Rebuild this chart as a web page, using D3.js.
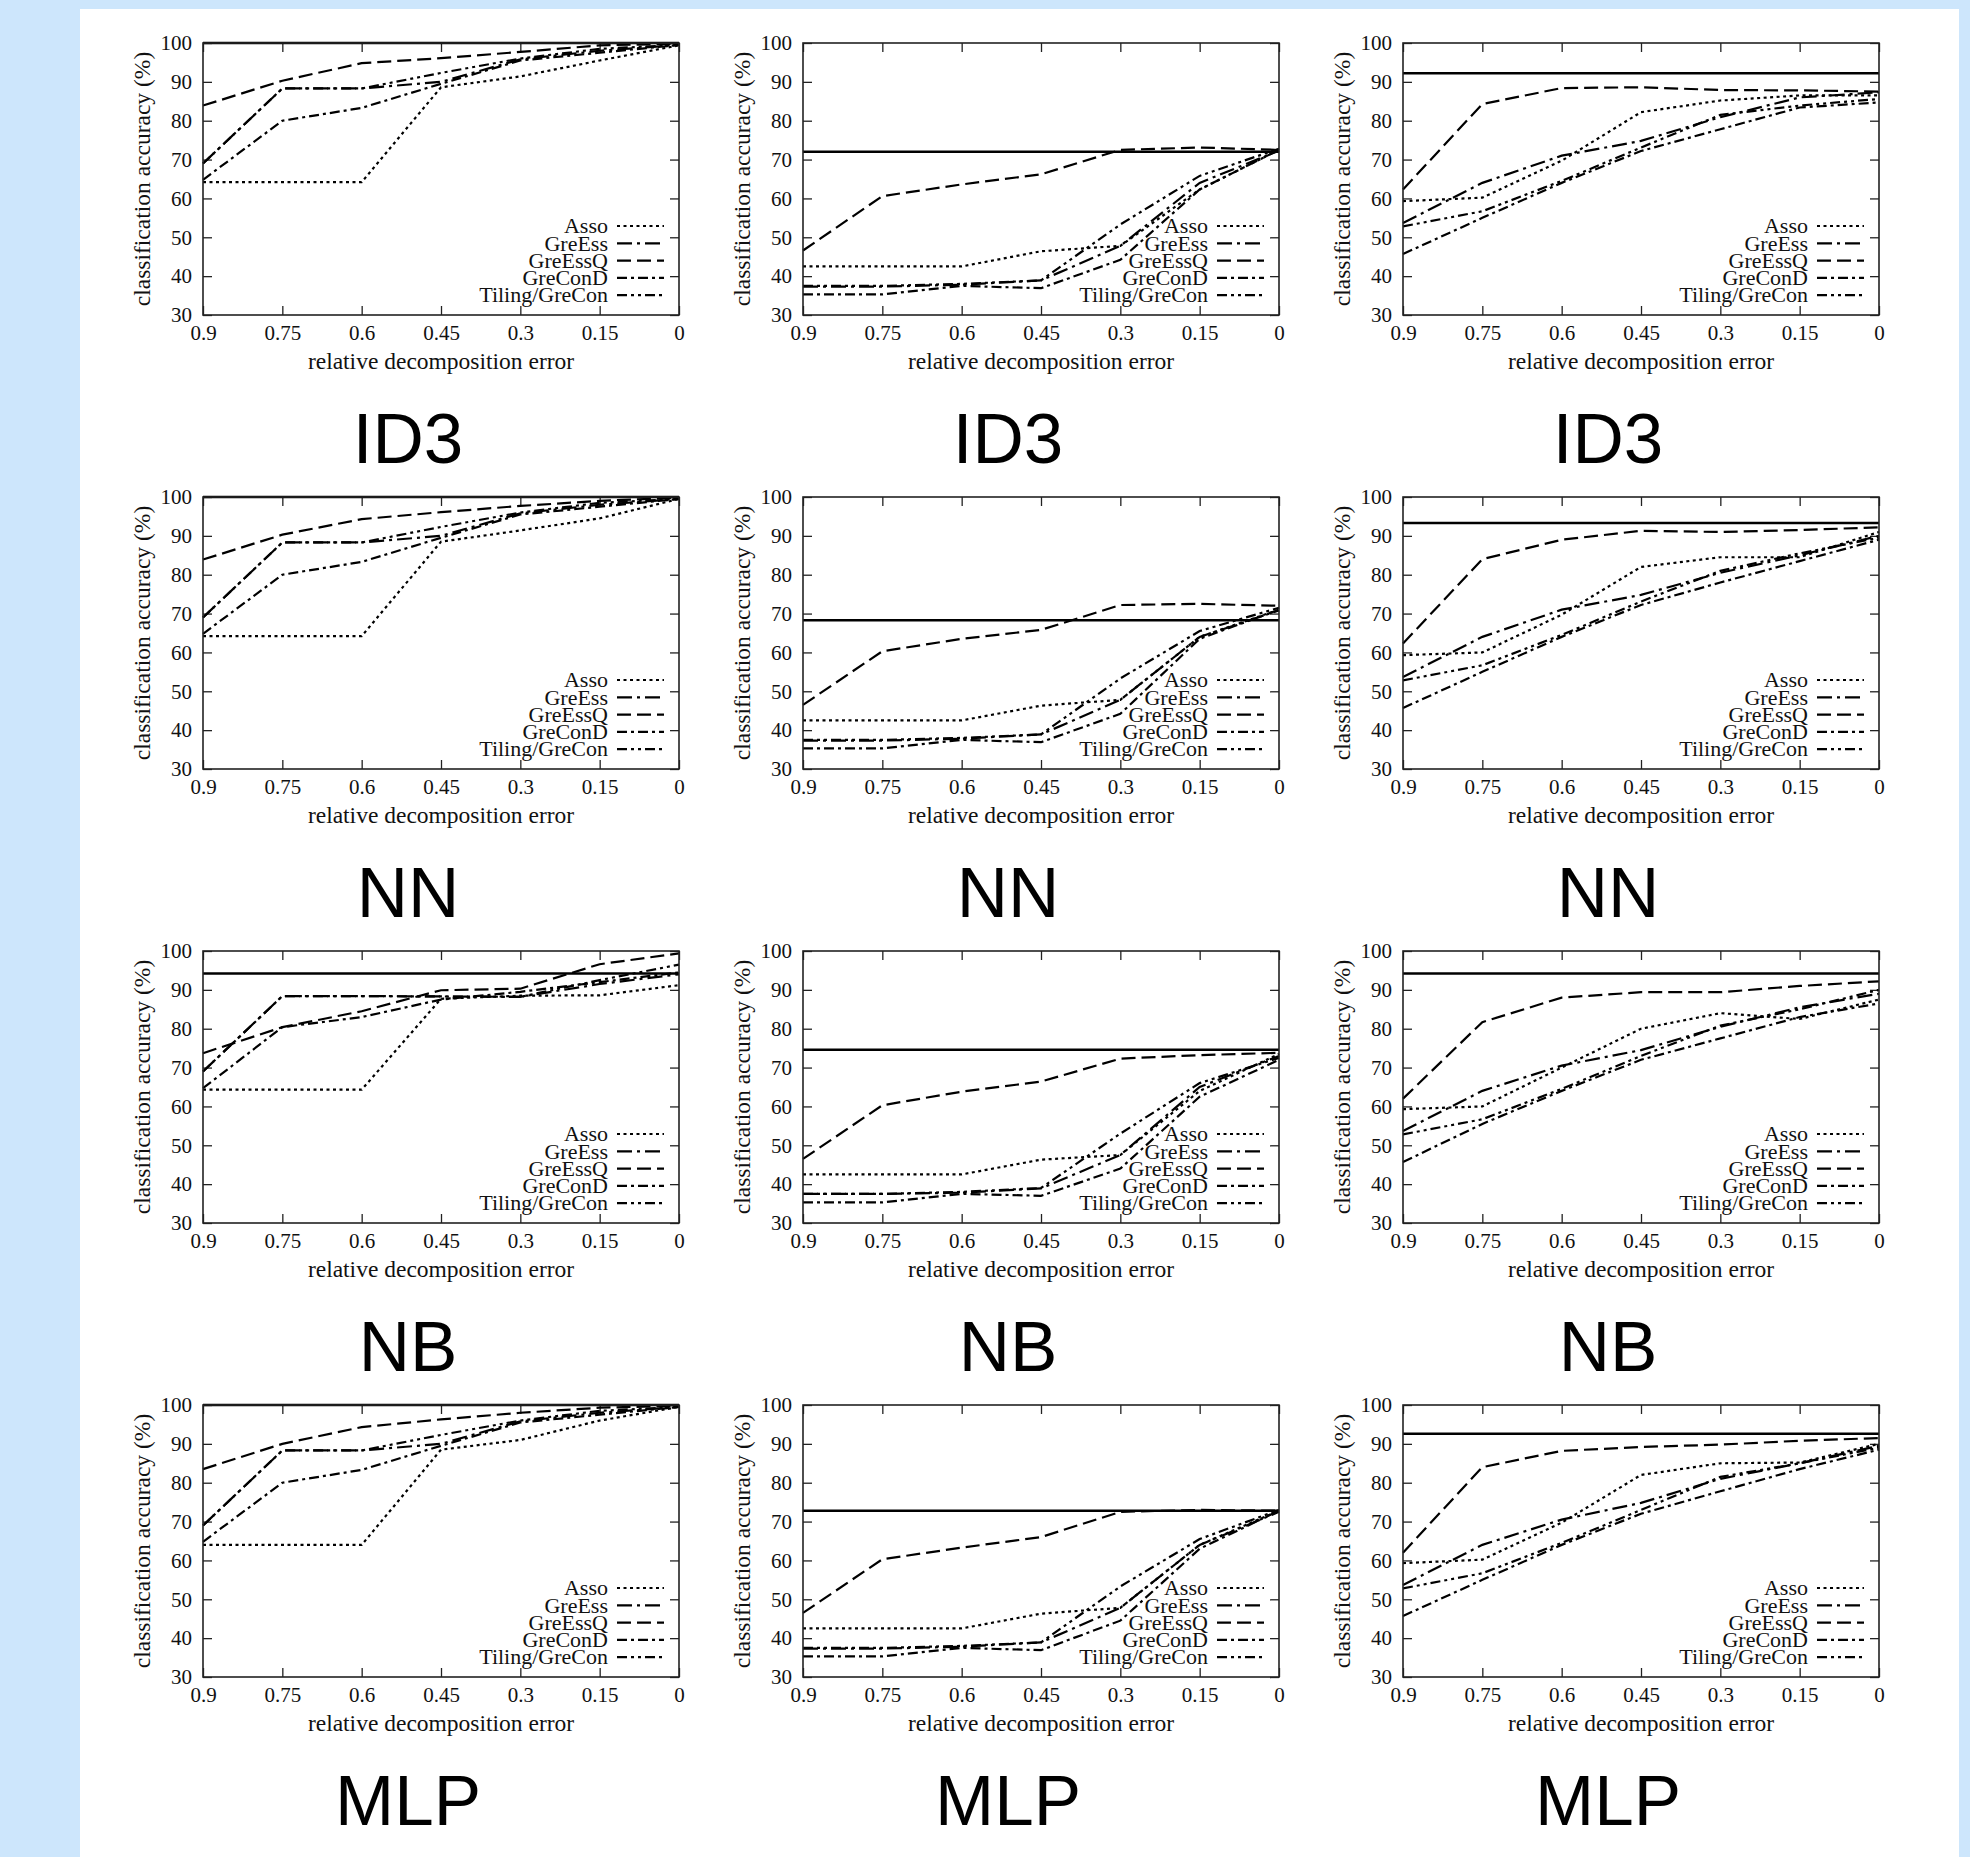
<!DOCTYPE html>
<html>
<head>
<meta charset="utf-8">
<script src="https://cdn.jsdelivr.net/npm/d3@7"></script>
<style>
  body { margin: 0; background: #cde6fc; }
  svg { display: block; }
</style>
</head>
<body>
<script>
  // x axis: relative decomposition error (reversed), y axis: accuracy in %
  const errorLevels = [0.9, 0.75, 0.6, 0.45, 0.3, 0.15, 0];
  const accTicks = [30, 40, 50, 60, 70, 80, 90, 100];
  const methods = ['Asso', 'GreEss', 'GreEssQ', 'GreConD', 'Tiling/GreCon'];
  const classifiers = ['ID3', 'NN', 'NB', 'MLP'];

  // accuracy on the original data (solid line), one per column
  const baseID3 = [100, 72.0, 92.2];
  const baseNN = [100, 68.3, 93.3];
  const baseNB = [94.2, 74.6, 94.2];
  const baseMLP = [100, 72.8, 92.6];

  // series order: Asso, GreEss, GreEssQ, GreConD, Tiling/GreCon
  const id3A = [
    [64.2, 64.2, 64.2, 88.6, 91.4, 95.5, 99.4],
    [69.0, 88.3, 88.3, 90.0, 95.8, 98.0, 99.5],
    [83.9, 90.3, 94.8, 96.1, 97.7, 99.4, 99.8],
    [64.8, 80.0, 83.3, 89.5, 95.5, 97.5, 99.5],
    [69.0, 88.3, 88.3, 92.3, 96.0, 98.5, 99.5],
  ];
  const id3B = [
    [42.5, 42.5, 42.5, 46.4, 47.8, 62.3, 72.5],
    [37.3, 37.3, 37.8, 38.9, 47.8, 64.0, 72.3],
    [46.6, 60.6, 63.6, 66.2, 72.5, 73.1, 72.5],
    [35.3, 35.3, 37.5, 36.9, 44.2, 62.3, 72.5],
    [37.5, 37.5, 38.0, 38.9, 53.3, 65.8, 72.8],
  ];
  const id3C = [
    [59.3, 60.2, 69.7, 82.2, 85.2, 86.5, 86.5],
    [53.7, 64.0, 71.0, 74.8, 80.9, 86.0, 87.3],
    [62.3, 84.3, 88.4, 88.6, 87.9, 87.8, 87.5],
    [45.7, 55.0, 64.0, 72.2, 77.8, 83.4, 84.7],
    [52.8, 56.7, 64.5, 73.1, 81.5, 83.9, 85.6],
  ];
  const nnA = [
    [64.2, 64.2, 64.2, 88.5, 91.4, 94.5, 99.5],
    [69.0, 88.3, 88.3, 90.0, 95.8, 98.0, 99.5],
    [83.9, 90.3, 94.3, 96.1, 97.7, 99.0, 99.8],
    [64.8, 80.0, 83.3, 89.5, 95.5, 97.5, 99.5],
    [69.0, 88.3, 88.3, 92.3, 96.0, 98.5, 99.5],
  ];
  const nnB = [
    [42.5, 42.5, 42.5, 46.3, 47.8, 64.0, 71.0],
    [37.3, 37.3, 37.8, 38.9, 47.8, 64.0, 70.8],
    [46.5, 60.3, 63.5, 65.8, 72.2, 72.5, 72.0],
    [35.3, 35.3, 37.5, 36.9, 44.2, 63.5, 71.0],
    [37.5, 37.5, 38.0, 38.9, 53.3, 65.5, 71.5],
  ];
  const nnC = [
    [59.3, 60.0, 69.7, 82.0, 84.5, 84.5, 91.0],
    [53.7, 64.0, 71.0, 74.8, 80.5, 85.0, 90.0],
    [62.3, 84.0, 89.0, 91.3, 91.0, 91.5, 92.2],
    [45.7, 55.0, 64.0, 72.2, 78.0, 83.5, 89.0],
    [52.8, 56.7, 64.5, 73.1, 81.0, 85.5, 89.5],
  ];
  const nbA = [
    [64.3, 64.3, 64.3, 87.7, 88.5, 88.6, 91.2],
    [69.0, 88.4, 88.4, 88.3, 88.2, 91.5, 94.0],
    [73.7, 80.4, 84.5, 89.9, 90.3, 96.6, 99.4],
    [64.7, 80.4, 83.0, 87.5, 89.5, 92.0, 94.5],
    [69.0, 88.4, 88.4, 88.3, 88.2, 92.5, 96.5],
  ];
  const nbB = [
    [42.5, 42.5, 42.5, 46.3, 47.5, 64.0, 73.5],
    [37.5, 37.5, 37.8, 38.9, 47.5, 65.0, 73.0],
    [46.5, 60.3, 63.8, 66.4, 72.3, 73.2, 73.8],
    [35.3, 35.3, 37.5, 37.0, 44.0, 62.5, 72.0],
    [37.5, 37.5, 38.0, 39.0, 53.0, 66.0, 72.5],
  ];
  const nbC = [
    [59.3, 60.0, 70.0, 80.0, 84.0, 82.5, 87.5],
    [53.7, 64.0, 70.5, 74.5, 80.5, 85.5, 89.0],
    [62.0, 81.7, 88.0, 89.4, 89.4, 91.0, 92.2],
    [45.7, 55.5, 64.0, 72.0, 77.5, 83.0, 86.5],
    [52.8, 56.7, 64.5, 73.0, 80.8, 85.0, 90.0],
  ];
  const mlpA = [
    [64.0, 64.0, 64.0, 88.5, 91.0, 96.0, 99.5],
    [69.0, 88.3, 88.3, 90.0, 95.8, 98.0, 99.5],
    [83.5, 90.0, 94.3, 96.3, 98.0, 99.3, 99.8],
    [64.8, 80.0, 83.3, 89.5, 95.5, 97.5, 99.5],
    [69.0, 88.3, 88.3, 92.3, 96.0, 98.5, 99.5],
  ];
  const mlpB = [
    [42.5, 42.5, 42.5, 46.3, 47.8, 64.0, 72.8],
    [37.3, 37.3, 37.8, 38.9, 47.8, 64.0, 72.5],
    [46.5, 60.3, 63.3, 66.0, 72.5, 73.0, 72.8],
    [35.3, 35.3, 37.5, 36.9, 44.5, 63.0, 72.8],
    [37.5, 37.5, 38.0, 38.9, 53.3, 65.5, 73.0],
  ];
  const mlpC = [
    [59.3, 60.2, 69.7, 82.0, 85.0, 85.2, 90.0],
    [53.7, 64.0, 70.5, 74.8, 81.0, 85.0, 89.5],
    [62.0, 84.0, 88.2, 89.2, 89.8, 90.8, 91.5],
    [45.7, 55.0, 64.0, 72.0, 77.8, 83.5, 88.5],
    [52.8, 56.7, 64.5, 73.0, 81.5, 85.0, 89.0],
  ];

  const panels = [
    [id3A, id3B, id3C],
    [nnA, nnB, nnC],
    [nbA, nbB, nbC],
    [mlpA, mlpB, mlpC],
  ];
  const baselines = [baseID3, baseNN, baseNB, baseMLP];

  const dashes = ['3,3.5', '15,5,3,5', '14,6', '10,4,3,4', '10,4,3,4,3,4'];

  const width = 1970;
  const height = 1857;
  const plotW = 476;
  const plotH = 272;
  const serif = "'Liberation Serif', 'Times New Roman', serif";

  const svg = d3.select('body')
    .append('svg')
    .attr('width', width)
    .attr('height', height);

  svg.append('rect').attr('width', width).attr('height', height).attr('fill', '#cde6fc');
  svg.append('rect')
    .attr('x', 80).attr('y', 9)
    .attr('width', 1879).attr('height', height - 9)
    .attr('fill', '#fff');

  const x = d3.scaleLinear().domain([0.9, 0]).range([0, plotW]);
  const y = d3.scaleLinear().domain([30, 100]).range([plotH, 0]);
  const line = d3.line().x((d, i) => x(errorLevels[i])).y((d) => y(d));

  function styleAxis(g, size) {
    g.select('.domain').remove();
    g.selectAll('line').attr('stroke', '#222').attr('stroke-width', 1.3);
    g.selectAll('text')
      .attr('font-family', serif)
      .attr('font-size', size)
      .attr('fill', '#111');
  }

  classifiers.forEach((name, r) => {
    for (let c = 0; c < 3; c++) {
      const series = panels[r][c];
      const g = svg.append('g')
        .attr('transform', `translate(${203 + 600 * c}, ${43 + 454 * r})`);

      // ticks pointing inward on all four sides
      g.append('g')
        .attr('transform', `translate(0, ${plotH})`)
        .call(d3.axisBottom(x).tickValues(errorLevels).tickSize(-9).tickPadding(10)
          .tickFormat((d) => String(d)))
        .call(styleAxis, 21);
      g.append('g')
        .call(d3.axisTop(x).tickValues(errorLevels).tickSize(-9).tickFormat(''))
        .call(styleAxis, 21);
      g.append('g')
        .call(d3.axisLeft(y).tickValues(accTicks).tickSize(-9).tickPadding(11))
        .call(styleAxis, 21);
      g.append('g')
        .attr('transform', `translate(${plotW}, 0)`)
        .call(d3.axisRight(y).tickValues(accTicks).tickSize(-9).tickFormat(''))
        .call(styleAxis, 21);

      // original accuracy
      g.append('line')
        .attr('x1', 0).attr('x2', plotW)
        .attr('y1', y(baselines[r][c])).attr('y2', y(baselines[r][c]))
        .attr('stroke', '#000')
        .attr('stroke-width', 2.4);

      g.selectAll('path.series')
        .data(series)
        .enter()
        .append('path')
        .attr('class', 'series')
        .attr('d', line)
        .attr('fill', 'none')
        .attr('stroke', '#000')
        .attr('stroke-width', 2.2)
        .attr('stroke-dasharray', (d, i) => dashes[i]);

      g.append('rect')
        .attr('width', plotW).attr('height', plotH)
        .attr('fill', 'none')
        .attr('stroke', '#222')
        .attr('stroke-width', 1.6);

      // legend
      const legend = g.append('g').attr('transform', 'translate(0, 183)');
      methods.forEach((m, i) => {
        const ly = i * 17.3;
        legend.append('text')
          .attr('x', 405).attr('y', ly)
          .attr('dy', '0.33em')
          .attr('text-anchor', 'end')
          .attr('font-family', serif)
          .attr('font-size', 22)
          .attr('fill', '#111')
          .text(m);
        legend.append('line')
          .attr('x1', 414).attr('x2', 461)
          .attr('y1', ly).attr('y2', ly)
          .attr('stroke', '#000')
          .attr('stroke-width', 2.2)
          .attr('stroke-dasharray', dashes[i]);
      });

      g.append('text')
        .attr('x', plotW / 2).attr('y', plotH + 54)
        .attr('text-anchor', 'middle')
        .attr('font-family', serif)
        .attr('font-size', 23.5)
        .attr('fill', '#111')
        .text('relative decomposition error');

      g.append('text')
        .attr('transform', `translate(-61, ${plotH / 2}) rotate(-90)`)
        .attr('dy', '0.35em')
        .attr('text-anchor', 'middle')
        .attr('font-family', serif)
        .attr('font-size', 23.5)
        .attr('fill', '#111')
        .text('classification accuracy (%)');

      g.append('text')
        .attr('x', 205).attr('y', 420)
        .attr('text-anchor', 'middle')
        .attr('font-family', "'Liberation Sans', Arial, sans-serif")
        .attr('font-size', 71)
        .attr('fill', '#000')
        .text(name);
    }
  });
</script>
</body>
</html>
